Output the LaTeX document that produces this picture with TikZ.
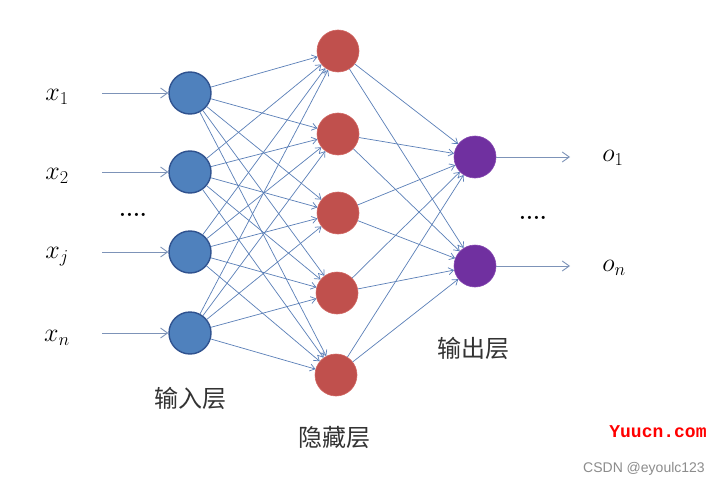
\RequirePackage{fix-cm}
\documentclass[tikz,border=0pt]{standalone}
\usepackage{fontspec}
\newfontfamily\cjk{Noto Sans CJK SC}
\newfontfamily\wmsans{Liberation Sans}
\newfontfamily\wmmono{Liberation Mono}
\usetikzlibrary{arrows.meta}
\definecolor{inblue}{HTML}{4F81BD}
\definecolor{inborder}{HTML}{2F528F}
\definecolor{hidred}{HTML}{C0504D}
\definecolor{hidborder}{HTML}{D06561}
\definecolor{outpurple}{HTML}{7030A0}
\definecolor{outborder}{HTML}{8446B0}
\definecolor{linkblue}{HTML}{5A7FB8}
\definecolor{inarrow}{HTML}{7D93B8}
\begin{document}
\begin{tikzpicture}[x=1pt,y=-1pt,
  neuron/.style={circle,minimum size=42pt,inner sep=0pt},
  inneuron/.style={neuron,fill=inblue,draw=inborder,line width=1.4pt},
  hidneuron/.style={neuron,fill=hidred,draw=hidborder,line width=0.6pt},
  outneuron/.style={neuron,fill=outpurple,draw=outborder,line width=0.6pt},
  link/.style={draw=linkblue,line width=0.7pt,-{Straight Barb[length=5pt,width=7pt]}},
  ioarrow/.style={draw=inarrow,line width=0.9pt,-{Straight Barb[length=7pt,width=10pt]}},
  mathlabel/.style={font=\fontsize{26}{30}\selectfont,inner sep=0pt},
  layerlabel/.style={font=\cjk\fontsize{24}{28}\selectfont,text=black!80,inner sep=0pt},
  dotslabel/.style={font=\bfseries\fontsize{22}{26}\selectfont,inner sep=0pt}
]
\useasboundingbox[fill=white] (0,0) rectangle (720,487);

% input neurons
\node[inneuron] (i1) at (190,93) {};
\node[inneuron] (i2) at (190,172) {};
\node[inneuron] (i3) at (190,252) {};
\node[inneuron] (i4) at (190,333) {};

% hidden neurons
\node[hidneuron] (h1) at (338,51) {};
\node[hidneuron] (h2) at (338,134) {};
\node[hidneuron] (h3) at (338,213) {};
\node[hidneuron] (h4) at (337,293) {};
\node[hidneuron] (h5) at (336,375) {};

% output neurons
\node[outneuron] (o1) at (475,157) {};
\node[outneuron] (o2) at (475,266) {};

% input labels and arrows
\node[mathlabel] (lx1) at (57,97) {$x_1$};
\node[mathlabel] (lx2) at (57,176) {$x_2$};
\node[mathlabel] (lxj) at (57,257) {$x_j$};
\node[mathlabel] (lxn) at (57,338) {$x_n$};
\coordinate (a1) at (102,93);
\coordinate (a2) at (102,172);
\coordinate (a3) at (102,252);
\coordinate (a4) at (102,333);
\foreach \k in {1,2,3,4} {\draw[ioarrow] (a\k) -- (i\k);}

\node[dotslabel] (ldots1) at (133,215) {....};

% connections input -> hidden
\foreach \i in {1,2,3,4} {
  \foreach \h in {1,2,3,4,5} {
    \draw[link] (i\i) -- (h\h);
  }
}
% connections hidden -> output
\foreach \h in {1,2,3,4,5} {
  \foreach \o in {1,2} {
    \draw[link] (h\h) -- (o\o);
  }
}

% output arrows and labels
\coordinate (b1) at (570,157);
\coordinate (b2) at (570,266);
\draw[ioarrow] (o1) -- (b1);
\draw[ioarrow] (o2) -- (b2);
\node[mathlabel] (lo1) at (613,158) {$o_1$};
\node[mathlabel] (lon) at (614,268) {$o_n$};
\node[dotslabel] (ldots2) at (533,218) {....};

% layer labels
\node[layerlabel] (lin) at (190,398) {输入层};
\node[layerlabel] (lhid) at (334,437) {隐藏层};
\node[layerlabel] (lout) at (473,348) {输出层};

% watermarks
\node[font=\wmmono\bfseries\fontsize{18}{20}\selectfont,text=red,inner sep=0pt] (wm1) at (658,432) {Yuucn.com};
\node[font=\wmsans\fontsize{14}{16}\selectfont,text=black!45,inner sep=0pt] (wm2) at (644,469) {CSDN @eyoulc123};
\end{tikzpicture}
\end{document}
